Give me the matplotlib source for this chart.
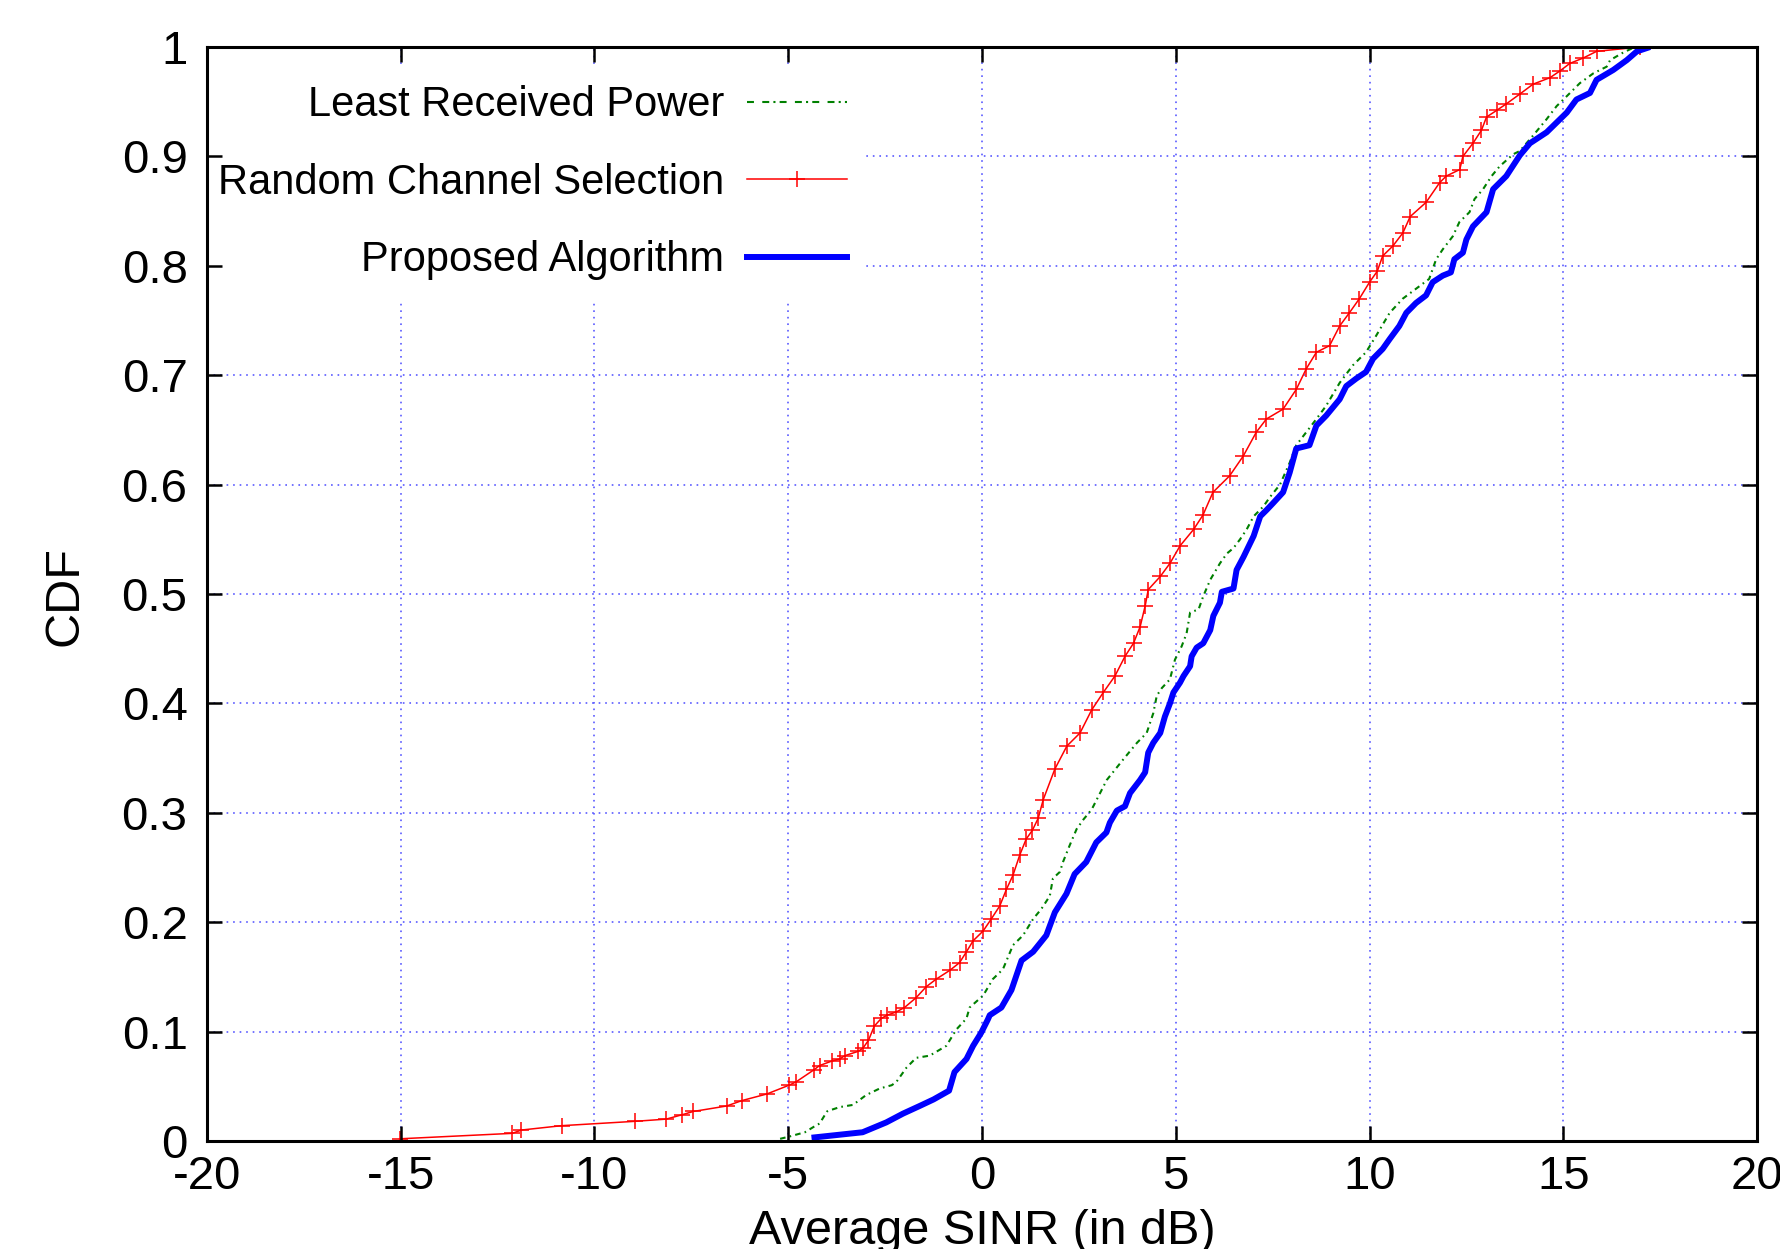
import matplotlib
matplotlib.use('Agg')
import matplotlib.pyplot as plt
from matplotlib.lines import Line2D

plt.rcParams['font.family'] = ['Liberation Sans', 'DejaVu Sans']
plt.rcParams['lines.scale_dashes'] = False

# ---------------- data ----------------
series_names = ['Least Received Power', 'Random Channel Selection', 'Proposed Algorithm']

least_x = [-5.21, -4.98, -4.57, -4.34, -4.19, -4.0, -3.93, -3.67, -3.33, -2.99, -2.64, -2.33,
           -2.21, -1.95, -1.70, -1.35, -0.92, -0.66, -0.40, -0.32, 0.03, 0.28, 0.54, 0.80,
           1.06, 1.32, 1.53, 1.75, 1.83, 2.01, 2.09, 2.26, 2.44, 2.62, 2.83, 3.22, 3.65, 4.0,
           4.25, 4.42, 4.51, 4.64, 4.85, 4.98, 5.15, 5.28, 5.37, 5.59, 5.71, 5.89, 6.14, 6.32,
           6.49, 6.66, 6.83, 7.01, 7.26, 7.44, 7.69, 7.94, 8.11, 8.37, 8.63, 8.88, 9.23, 9.57,
           9.91, 10.17, 10.52, 10.86, 11.20, 11.54, 11.72, 11.89, 12.15, 12.32, 12.58, 12.71,
           12.93, 13.15, 13.36, 13.71, 13.88, 14.22, 14.57, 14.83, 15.09, 15.43, 15.78, 16.12,
           16.21, 16.55, 16.85]
least_cdf = [0.002, 0.004, 0.008, 0.013, 0.016, 0.027, 0.028, 0.031, 0.033, 0.042, 0.048, 0.051,
             0.054, 0.067, 0.076, 0.078, 0.087, 0.102, 0.112, 0.122, 0.133, 0.148, 0.157, 0.179,
             0.188, 0.203, 0.212, 0.224, 0.240, 0.246, 0.255, 0.270, 0.285, 0.294, 0.303, 0.330,
             0.349, 0.364, 0.373, 0.391, 0.407, 0.414, 0.422, 0.440, 0.452, 0.464, 0.483, 0.486,
             0.498, 0.513, 0.528, 0.537, 0.542, 0.550, 0.559, 0.571, 0.580, 0.589, 0.600, 0.620,
             0.636, 0.648, 0.660, 0.672, 0.693, 0.709, 0.721, 0.736, 0.757, 0.770, 0.779, 0.788,
             0.806, 0.815, 0.827, 0.840, 0.849, 0.861, 0.870, 0.882, 0.891, 0.902, 0.905, 0.919,
             0.934, 0.946, 0.955, 0.967, 0.976, 0.982, 0.988, 0.995, 1.0]

random_x = [-15.03, -12.12, -11.89, -10.85, -8.95, -8.15, -7.74, -7.45, -6.59, -6.19, -5.55,
            -4.98, -4.80, -4.34, -4.19, -3.88, -3.67, -3.54, -3.19, -3.07, -2.93, -2.78, -2.60,
            -2.45, -2.21, -2.0, -1.70, -1.44, -1.18, -0.83, -0.58, -0.40, -0.23, 0.03, 0.24,
            0.46, 0.63, 0.80, 0.97, 1.14, 1.30, 1.45, 1.58, 1.88, 2.19, 2.53, 2.83, 3.13, 3.43,
            3.69, 3.91, 4.08, 4.21, 4.29, 4.60, 4.85, 5.11, 5.46, 5.70, 5.96, 6.39, 6.74, 7.08,
            7.34, 7.77, 8.11, 8.37, 8.63, 8.97, 9.23, 9.48, 9.74, 10.0, 10.20, 10.34, 10.60,
            10.86, 11.05, 11.46, 11.81, 11.98, 12.33, 12.41, 12.67, 12.89, 13.02, 13.28, 13.53,
            13.88, 14.22, 14.66, 14.91, 15.17, 15.52, 15.86, 16.98]
random_cdf = [0.002, 0.007, 0.010, 0.014, 0.018, 0.020, 0.024, 0.027, 0.032, 0.037, 0.043,
              0.051, 0.054, 0.065, 0.069, 0.073, 0.075, 0.078, 0.082, 0.085, 0.092, 0.105, 0.112,
              0.115, 0.118, 0.122, 0.131, 0.141, 0.148, 0.156, 0.163, 0.173, 0.183, 0.192, 0.203,
              0.215, 0.230, 0.243, 0.261, 0.276, 0.284, 0.295, 0.312, 0.340, 0.361, 0.373, 0.394,
              0.410, 0.425, 0.443, 0.455, 0.470, 0.489, 0.504, 0.516, 0.528, 0.544, 0.559, 0.572,
              0.593, 0.608, 0.626, 0.648, 0.660, 0.669, 0.687, 0.706, 0.721, 0.727, 0.745, 0.757,
              0.770, 0.785, 0.795, 0.809, 0.818, 0.830, 0.845, 0.858, 0.876, 0.882, 0.888, 0.900,
              0.912, 0.924, 0.936, 0.942, 0.948, 0.957, 0.966, 0.972, 0.978, 0.985, 0.990, 0.996,
              1.0]

proposed_x = [-4.40, -3.08, -2.47, -2.04, -1.61, -1.25, -0.85, -0.71, -0.40, -0.23, -0.02, 0.15,
              0.20, 0.50, 0.76, 1.02, 1.32, 1.66, 1.88, 2.18, 2.39, 2.69, 2.95, 3.21, 3.30, 3.48,
              3.69, 3.82, 4.08, 4.21, 4.29, 4.42, 4.60, 4.72, 4.85, 4.94, 5.11, 5.20, 5.37, 5.41,
              5.54, 5.71, 5.89, 5.97, 6.14, 6.19, 6.49, 6.57, 6.75, 7.01, 7.18, 7.35, 7.51, 7.77,
              7.94, 8.11, 8.45, 8.63, 8.88, 9.23, 9.40, 9.66, 9.91, 10.09, 10.34, 10.52, 10.77,
              10.95, 11.20, 11.46, 11.63, 11.89, 12.10, 12.19, 12.41, 12.50, 12.67, 13.02, 13.19,
              13.53, 13.88, 14.14, 14.57, 14.83, 15.09, 15.34, 15.69, 15.86, 16.29, 16.64, 16.90,
              17.24]
proposed_cdf = [0.003, 0.008, 0.017, 0.025, 0.032, 0.038, 0.046, 0.063, 0.075, 0.087, 0.099,
                0.111, 0.115, 0.122, 0.138, 0.165, 0.173, 0.188, 0.209, 0.226, 0.244, 0.255,
                0.273, 0.282, 0.291, 0.302, 0.306, 0.318, 0.330, 0.337, 0.355, 0.364, 0.373,
                0.388, 0.400, 0.410, 0.419, 0.425, 0.434, 0.443, 0.451, 0.455, 0.467, 0.480,
                0.492, 0.502, 0.505, 0.522, 0.534, 0.553, 0.571, 0.577, 0.583, 0.593, 0.611,
                0.633, 0.636, 0.654, 0.663, 0.678, 0.690, 0.697, 0.703, 0.715, 0.724, 0.733,
                0.745, 0.757, 0.766, 0.773, 0.785, 0.791, 0.794, 0.806, 0.812, 0.824, 0.836,
                0.849, 0.870, 0.882, 0.901, 0.912, 0.922, 0.931, 0.940, 0.952, 0.958, 0.970,
                0.979, 0.988, 0.996, 1.0]

x_ticks = [-20, -15, -10, -5, 0, 5, 10, 15, 20]
x_tick_labels = ['-20', '-15', '-10', '-5', '0', '5', '10', '15', '20']
y_ticks = [0, 0.1, 0.2, 0.3, 0.4, 0.5, 0.6, 0.7, 0.8, 0.9, 1.0]
y_tick_labels = ['0', '0.1', '0.2', '0.3', '0.4', '0.5', '0.6', '0.7', '0.8', '0.9', '1']
x_label = 'Average SINR (in dB)'
y_label = 'CDF'

# ---------------- styles ----------------
GREEN = '#008000'
RED = '#ff0000'
BLUE = '#0000ff'
GRID = '#5a5aff'
green_dash = (0, (5, 6, 5, 3, 1.5, 3))

W, H = 1781, 1249
fig = plt.figure(figsize=(W / 100, H / 100), dpi=100)
rect = [207 / W, 1 - 1141 / H, 1550 / W, 1094 / H]

# background axes for the grid (so the legend box can hide it)
ax_bg = fig.add_axes(rect, zorder=1)
ax_bg.set_xlim(-20, 20)
ax_bg.set_ylim(0, 1)
ax_bg.set_xticks(x_ticks)
ax_bg.set_yticks(y_ticks)
ax_bg.tick_params(length=0, labelbottom=False, labelleft=False)
for s in ax_bg.spines.values():
    s.set_visible(False)
ax_bg.grid(True, color=GRID, linestyle=(0, (1.2, 3.5)), linewidth=1.2)

ax = fig.add_axes(rect, zorder=2)
ax.set_facecolor('none')
ax.set_xlim(-20, 20)
ax.set_ylim(0, 1)

ax.plot(least_x, least_cdf, color=GREEN, linewidth=1.5, linestyle=(0, (4, 3, 1.2, 3)), zorder=2)
ax.plot(random_x, random_cdf, color=RED, linewidth=1.1, marker='+', markersize=12,
        markeredgewidth=1.1, zorder=2)
ax.plot(proposed_x, proposed_cdf, color=BLUE, linewidth=4.3, solid_capstyle='butt', zorder=2)

ax.set_xticks(x_ticks)
ax.set_xticklabels(x_tick_labels)
ax.set_yticks(y_ticks)
ax.set_yticklabels(y_tick_labels)
ax.tick_params(axis='both', direction='in', length=11, width=1.8, top=True, right=True)
ax.tick_params(axis='x', labelsize=34, pad=10)
ax.tick_params(axis='y', labelsize=34, pad=14)
ax.xaxis.set_zorder(6)
ax.yaxis.set_zorder(6)
for s in ax.spines.values():
    s.set_linewidth(2.2)
    s.set_zorder(6)

ax.set_xlabel(x_label, fontsize=35)
ax.xaxis.set_label_coords(0.5, -0.062)
ax.set_ylabel(y_label, fontsize=35)
ax.yaxis.label.set_va('center')
ax.yaxis.set_label_coords(-0.0916, 0.498)

handles = [
    Line2D([], [], color=GREEN, linewidth=1.5, linestyle=green_dash),
    Line2D([], [], color=RED, linewidth=1.1, marker='+', markersize=12, markeredgewidth=1.1),
    Line2D([], [], color=BLUE, linewidth=4.3),
]
leg = ax.legend(handles, series_names, loc='upper right', bbox_to_anchor=(0.425, 0.982),
                markerfirst=False, numpoints=1, fontsize=30, frameon=True, fancybox=False,
                facecolor='white', edgecolor='none', framealpha=1.0, borderpad=0.45,
                handlelength=2.4, handletextpad=0.55, labelspacing=0.9, borderaxespad=0)
leg.set_zorder(5)

fig.savefig('out.png', dpi=100)
